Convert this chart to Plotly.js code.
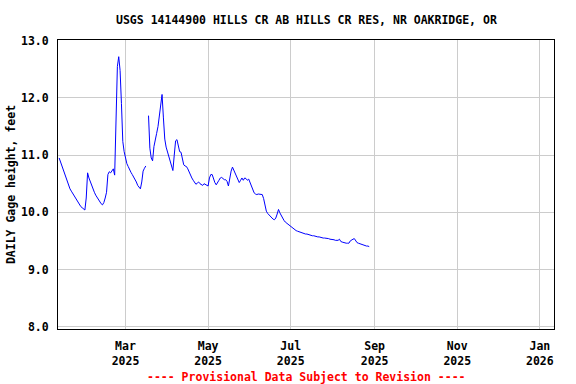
<!DOCTYPE html>
<html>
<head>
<meta charset="utf-8">
<script src="https://cdn.plot.ly/plotly-3.0.1.min.js"></script>
<style>html,body{margin:0;padding:0;background:#fff;}#chart{width:576px;height:384px;}</style>
</head>
<body>
<div id="chart"></div>
<script>
// Daily gage height (feet), one value per day starting at startDate; null = missing day
const startDate = '2025-01-11';
const gageHeight = [
  10.95,10.88,10.82,10.74,10.67,10.60,10.53,10.47,10.41,10.37,
  10.33,10.29,10.25,10.22,10.18,10.14,10.10,10.08,10.05,10.04,
  10.25,10.69,10.60,10.53,10.46,10.40,10.35,10.30,10.26,10.22,
  10.18,10.15,10.13,10.17,10.25,10.35,10.66,10.71,10.69,10.72,
  10.76,10.65,11.50,12.55,12.72,12.48,11.90,11.24,11.06,10.92,
  10.85,10.80,10.74,10.70,10.66,10.62,10.58,10.53,10.47,10.44,
  10.41,10.53,10.72,10.77,10.81,null,11.69,11.12,10.95,10.90,
  11.15,11.30,11.38,11.50,11.72,11.92,12.06,11.65,11.28,11.14,
  11.05,10.98,10.89,10.77,10.73,11.00,11.25,11.27,11.16,11.06,
  11.05,10.93,10.83,10.81,10.80,10.76,10.70,10.64,10.60,10.56,
  10.53,10.49,10.51,10.53,10.50,10.48,10.47,10.50,10.49,10.48,
  10.46,10.60,10.66,10.66,10.58,10.52,10.48,10.51,10.56,10.60,
  10.61,10.59,10.57,10.57,10.54,10.46,10.62,10.72,10.79,10.74,
  10.69,10.63,10.57,10.52,10.56,10.60,10.56,10.60,10.59,10.56,
  10.58,10.52,10.46,10.37,10.34,10.32,10.31,10.32,10.32,10.32,
  10.31,10.24,10.12,10.02,9.98,9.95,9.93,9.90,9.88,9.87,
  9.90,9.97,10.05,9.99,9.94,9.89,9.86,9.83,9.81,9.79,
  9.77,9.75,9.74,9.72,9.70,9.68,9.67,9.66,9.65,9.65,
  9.64,9.63,9.62,9.62,9.61,9.60,9.60,9.59,9.59,9.58,
  9.58,9.57,9.57,9.56,9.56,9.55,9.55,9.55,9.54,9.54,
  9.53,9.53,9.52,9.52,9.51,9.51,9.51,9.53,9.49,9.48,
  9.47,9.47,9.46,9.46,9.46,9.50,9.52,9.53,9.54,9.50,
  9.47,9.46,9.45,9.44,9.43,9.43,9.42,9.41,9.41,9.40
];
const tickDates = ['2025-03-01','2025-05-01','2025-07-01','2025-09-01','2025-11-01','2026-01-01'];
const tickLabels = ['Mar<br>2025','May<br>2025','Jul<br>2025','Sep<br>2025','Nov<br>2025','Jan<br>2026'];
const yTicks = [8.0, 9.0, 10.0, 11.0, 12.0, 13.0];
const yTickLabels = ['8.0','9.0','10.0','11.0','12.0','13.0'];

function dayString(start, i) {
  const d = new Date(start + 'T00:00:00Z');
  d.setUTCDate(d.getUTCDate() + i);
  return d.toISOString().slice(0, 10);
}
const dates = gageHeight.map((_, i) => dayString(startDate, i));

const FONT = 'DejaVu Sans Mono, monospace';
const trace = {
  x: dates, y: gageHeight, type: 'scatter', mode: 'lines',
  line: {color: '#0000ff', width: 1}, connectgaps: false, hoverinfo: 'skip'
};
const layout = {
  width: 576, height: 384,
  margin: {l: 58, r: 22, t: 40, b: 55},
  paper_bgcolor: '#ffffff', plot_bgcolor: '#ffffff',
  showlegend: false,
  font: {family: FONT, size: 11.5, color: '#000', weight: 'bold'},
  title: {
    text: 'USGS 14144900 HILLS CR AB HILLS CR RES, NR OAKRIDGE, OR',
    font: {family: FONT, size: 11.5, color: '#000', weight: 'bold'},
    x: 0.532, xref: 'container', xanchor: 'center',
    y: 1 - 20 / 384, yref: 'container', yanchor: 'middle'
  },
  xaxis: {
    type: 'date',
    range: ['2025-01-10 03:36', '2026-01-11 10:48'],
    tickmode: 'array', tickvals: tickDates, ticktext: tickLabels,
    showgrid: true, gridcolor: '#cccccc', gridwidth: 1,
    showline: true, linecolor: '#000', linewidth: 1, mirror: true,
    ticks: 'outside', ticklen: 6, tickcolor: 'rgba(0,0,0,0)',
    tickfont: {family: FONT, size: 11.5, color: '#000', weight: 'bold'},
    zeroline: false, fixedrange: true
  },
  yaxis: {
    range: [7.96, 13.012],
    tickmode: 'array', tickvals: yTicks, ticktext: yTickLabels,
    showgrid: true, gridcolor: '#cccccc', gridwidth: 1,
    showline: true, linecolor: '#000', linewidth: 1, mirror: true,
    ticks: 'outside', ticklen: 6, tickcolor: 'rgba(0,0,0,0)',
    tickfont: {family: FONT, size: 11.5, color: '#000', weight: 'bold'},
    title: {text: 'DAILY Gage height, feet', standoff: 2,
            font: {family: FONT, size: 11.5, color: '#000', weight: 'bold'}},
    zeroline: false, fixedrange: true, automargin: false
  },
  annotations: [{
    text: '---- Provisional Data Subject to Revision ----',
    xref: 'paper', yref: 'paper', x: 0.5, xanchor: 'center',
    y: -(376.5 - 329) / 289, yanchor: 'middle', showarrow: false,
    font: {family: FONT, size: 11.5, color: '#ff0000', weight: 'bold'}
  }]
};
Plotly.newPlot('chart', [trace], layout, {staticPlot: true, displayModeBar: false});
</script>
</body>
</html>
